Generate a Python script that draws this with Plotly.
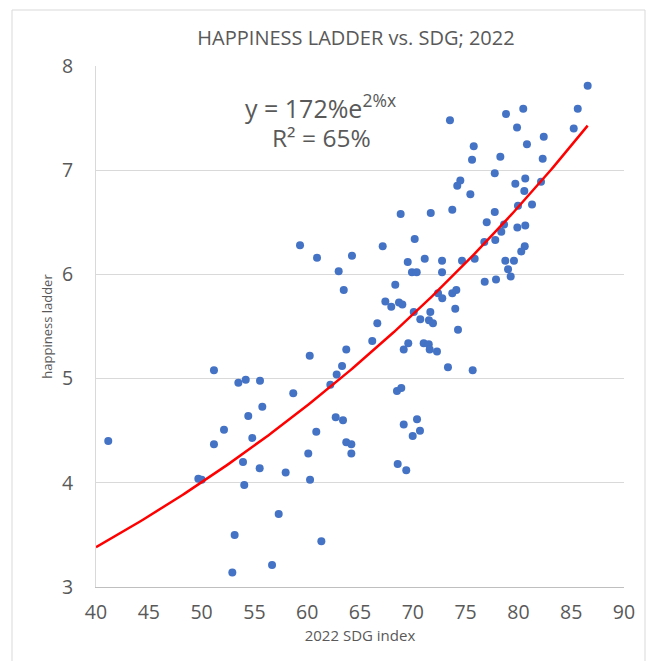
import numpy as np
import plotly.graph_objects as go

sdg_index = [73.52, 75.77, 75.61, 74.50, 74.21, 75.45, 68.85, 71.70, 73.74, 77.00,
             59.32, 67.15, 70.18, 60.93, 64.24, 76.77, 86.56, 78.83, 80.46, 85.62,
             79.87, 85.24, 80.81, 82.40, 78.29, 82.30, 77.76, 79.71, 80.65, 80.56,
             82.14, 77.76, 79.96, 81.29, 78.64, 78.38, 77.81, 79.90, 80.65, 80.60,
             80.27, 78.76, 79.58, 79.02, 77.88, 79.27, 69.52, 71.13, 72.77, 74.66,
             75.86, 62.98, 63.46, 69.92, 70.37, 72.77, 76.81, 68.34, 72.39, 72.79,
             73.74, 74.12, 67.40, 67.96, 68.69, 69.01, 70.09, 71.66, 70.71, 71.53,
             71.91, 74.02, 74.28, 66.64, 66.16, 69.57, 69.14, 71.03, 71.51, 71.60,
             72.29, 63.70, 60.24, 63.30, 62.79, 62.19, 73.33, 75.67, 58.68, 68.50,
             68.91, 62.70, 63.39, 60.86, 69.14, 70.40, 70.68, 69.99, 63.70, 64.18,
             60.10, 64.18, 60.27, 68.57, 69.38, 61.34, 51.17, 53.48, 54.18, 55.53,
             55.75, 54.42, 52.12, 54.80, 41.16, 51.17, 53.92, 55.50, 57.96, 49.69,
             50.01, 54.04, 57.30, 53.13, 56.67, 52.91]
happiness = [7.48, 7.23, 7.10, 6.90, 6.85, 6.77, 6.58, 6.59, 6.62, 6.50,
             6.28, 6.27, 6.34, 6.16, 6.18, 6.31, 7.81, 7.54, 7.59, 7.59,
             7.41, 7.40, 7.25, 7.32, 7.13, 7.11, 6.97, 6.87, 6.92, 6.80,
             6.89, 6.60, 6.66, 6.67, 6.48, 6.41, 6.33, 6.45, 6.47, 6.27,
             6.22, 6.13, 6.13, 6.05, 5.95, 5.98, 6.12, 6.15, 6.13, 6.13,
             6.15, 6.03, 5.85, 6.02, 6.02, 6.02, 5.93, 5.90, 5.82, 5.77,
             5.82, 5.85, 5.74, 5.69, 5.73, 5.71, 5.64, 5.64, 5.57, 5.56,
             5.53, 5.67, 5.47, 5.53, 5.36, 5.34, 5.28, 5.34, 5.33, 5.28,
             5.26, 5.28, 5.22, 5.12, 5.04, 4.94, 5.11, 5.08, 4.86, 4.88,
             4.91, 4.63, 4.60, 4.49, 4.56, 4.61, 4.50, 4.45, 4.39, 4.37,
             4.28, 4.28, 4.03, 4.18, 4.12, 3.44, 5.08, 4.96, 4.99, 4.98,
             4.73, 4.64, 4.51, 4.43, 4.40, 4.37, 4.20, 4.14, 4.10, 4.04,
             4.03, 3.98, 3.70, 3.50, 3.21, 3.14]

# Exponential trendline parameters (y = a * e^(b x)), as shown on the chart
TREND_A = 1.72
TREND_B = 0.0169

x_ticks = [40, 45, 50, 55, 60, 65, 70, 75, 80, 85, 90]
y_ticks = [3, 4, 5, 6, 7, 8]

grey = "#595959"
font_family = "'Open Sans', Lato, sans-serif"

trend_x = np.linspace(40, max(sdg_index), 200)
trend_y = TREND_A * np.exp(TREND_B * trend_x)

fig = go.Figure()
fig.add_trace(go.Scatter(
    x=sdg_index, y=happiness, mode="markers",
    marker=dict(color="#4472C4", size=8, line=dict(width=0)),
    showlegend=False, hoverinfo="x+y"))
fig.add_trace(go.Scatter(
    x=trend_x, y=trend_y, mode="lines",
    line=dict(color="#FF0000", width=2.5),
    showlegend=False, hoverinfo="skip"))

fig.update_layout(
    width=657, height=661,
    margin=dict(l=88, r=41, t=58, b=82),
    paper_bgcolor="white", plot_bgcolor="white",
    font=dict(family=font_family, color=grey),
    title=dict(text="HAPPINESS LADDER vs. SDG; 2022",
               x=348/657, xanchor="center", y=1-30/661, yanchor="middle",
               font=dict(size=20, color=grey, family=font_family)),
    xaxis=dict(range=[40, 90], tickvals=x_ticks, showgrid=False, zeroline=False,
               showline=True, linecolor="#BFBFBF", linewidth=1,
               tickfont=dict(size=19.5, color=grey), ticklabelstandoff=8,
               title=dict(text="2022 SDG index", font=dict(size=15, color=grey), standoff=3)),
    yaxis=dict(range=[3, 8], tickvals=y_ticks, showgrid=True, gridcolor="#D9D9D9",
               gridwidth=1, zeroline=False, showline=True, linecolor="#D9D9D9", linewidth=1,
               tickfont=dict(size=19.5, color=grey), ticklabelstandoff=18,
               title=dict(text="happiness ladder", font=dict(size=13, color=grey), standoff=6)),
    shapes=[dict(type="rect", xref="paper", yref="paper",
                 x0=(12-96)/528, x1=(645-96)/528, y0=-0.3, y1=(587-10)/521,
                 line=dict(color="#D9D9D9", width=1), fillcolor="rgba(0,0,0,0)", layer="below")],
    annotations=[
        dict(text="y = 172%e<sup>2%x</sup>",
             xref="paper", yref="paper",
             x=(320-96)/528, y=(587-107)/521, xanchor="center", yanchor="middle",
             showarrow=False, font=dict(size=25, color=grey)),
        dict(text="R² = 65%", xref="paper", yref="paper",
             x=(321-96)/528, y=(587-138)/521, xanchor="center", yanchor="middle",
             showarrow=False, font=dict(size=24.5, color=grey)),
    ],
)

fig.write_html("out.html")
